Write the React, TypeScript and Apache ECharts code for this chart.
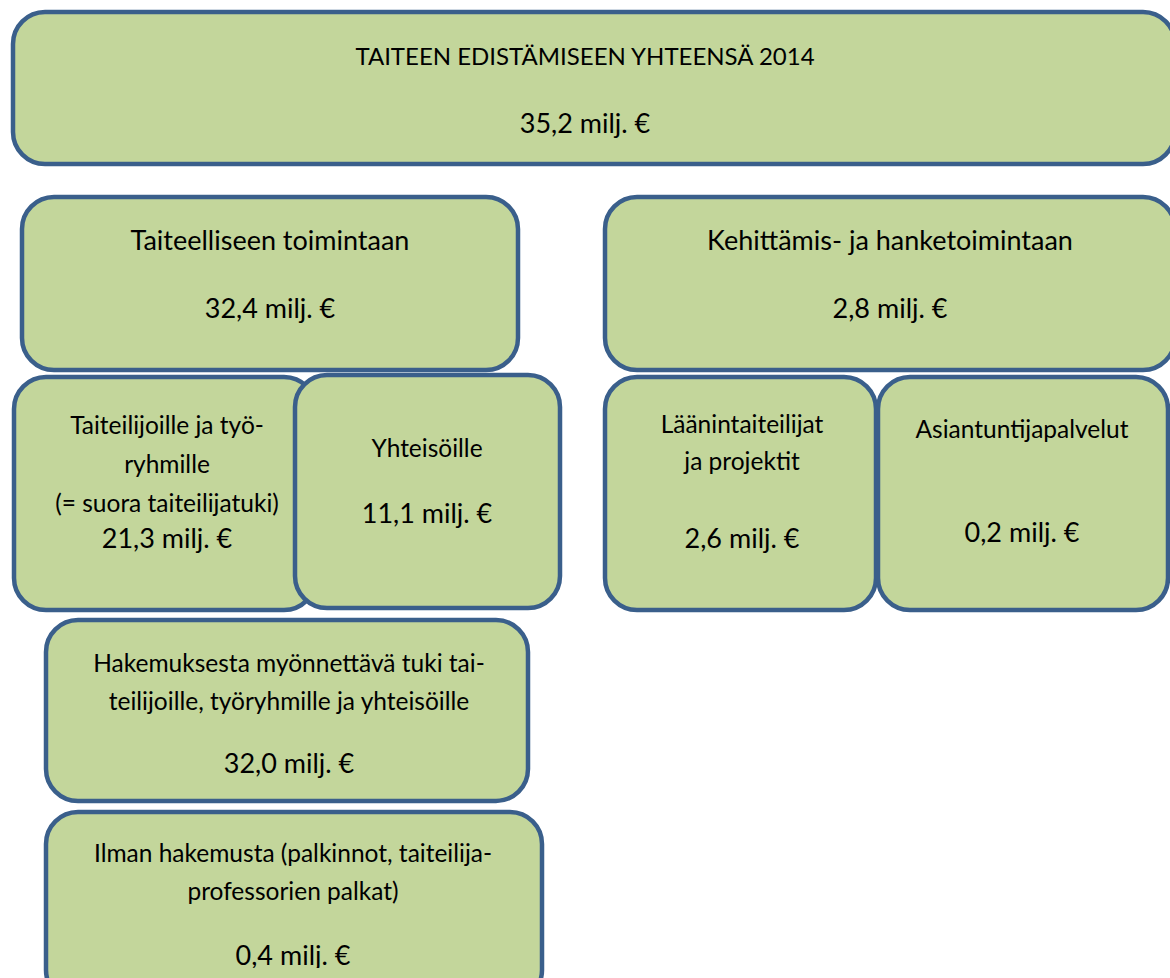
import React, { useEffect, useRef } from "react";
import * as echarts from "echarts";

// Data
const boxTitles: string[][] = [
  ["TAITEEN EDISTÄMISEEN YHTEENSÄ 2014"],
  ["Taiteelliseen toimintaan"],
  ["Kehittämis- ja hanketoimintaan"],
  ["Taiteilijoille ja työ-", "ryhmille", "(= suora taiteilijatuki)"],
  ["Yhteisöille"],
  ["Läänintaiteilijat", "ja projektit"],
  ["Asiantuntijapalvelut"],
  ["Hakemuksesta myönnettävä tuki tai-", "teilijoille, työryhmille ja yhteisöille"],
  ["Ilman hakemusta (palkinnot, taiteilija-", "professorien palkat)"],
];
const boxValues: string[] = ["35,2", "32,4", "2,8", "21,3", "11,1", "2,6", "0,2", "32,0", "0,4"];
const unitLabel = "milj. €";

// Layout (positions, not data)
const DY = 5;
type L = { x: number; y: number; w: number; h: number; cx: number; titleY: number[]; valueY: number; ts: number; vs: number };
const layout: L[] = [
  { x: 13, y: 12, w: 1162, h: 152, cx: 585, titleY: [50.6], valueY: 117.5, ts: 24, vs: 27 },
  { x: 22, y: 197, w: 496, h: 173, cx: 270, titleY: [234.5], valueY: 302.5, ts: 27, vs: 27 },
  { x: 605, y: 197, w: 570, h: 173, cx: 890, titleY: [234.5], valueY: 302.5, ts: 27, vs: 27 },
  { x: 14, y: 377, w: 302, h: 233, cx: 167, titleY: [419.4, 458.4, 497.4], valueY: 532.5, ts: 24.5, vs: 27 },
  { x: 295, y: 375, w: 265, h: 233, cx: 427, titleY: [442], valueY: 507.5, ts: 24.5, vs: 27 },
  { x: 605, y: 377, w: 271, h: 233, cx: 742, titleY: [418.4, 455.4], valueY: 532.5, ts: 24.5, vs: 27 },
  { x: 878, y: 377, w: 290, h: 233, cx: 1022, titleY: [423.4], valueY: 526.5, ts: 24.5, vs: 27 },
  { x: 46, y: 620, w: 482, h: 181, cx: 289, titleY: [657.4, 695.4], valueY: 757.5, ts: 24.5, vs: 27 },
  { x: 46, y: 812, w: 496, h: 190, cx: 293, titleY: [847.4, 885.4], valueY: 949.5, ts: 24.5, vs: 27 },
];

const FONT = "Lato";
const FILL = "#c3d69b";
const STROKE = "#3a5f8b";

export default function App() {
  const ref = useRef<HTMLDivElement>(null);
  useEffect(() => {
    if (!ref.current) return;
    const chart = echarts.init(ref.current, null, { renderer: "svg" });
    const elements: any[] = [];
    layout.forEach((b, i) => {
      const children: any[] = [
        {
          type: "rect",
          shape: { x: b.x, y: b.y, width: b.w, height: b.h, r: 32 },
          style: { fill: FILL, stroke: STROKE, lineWidth: 4.5 },
        },
      ];
      boxTitles[i].forEach((t, j) => {
        children.push({
          type: "text",
          x: b.cx,
          y: b.titleY[j] + DY,
          style: {
            text: t,
            fill: "#000",
            font: `${b.ts}px ${FONT}`,
            textAlign: "center",
            textVerticalAlign: "middle",
          },
        });
      });
      children.push({
        type: "text",
        x: b.cx,
        y: b.valueY + DY,
        style: {
          text: `${boxValues[i]} ${unitLabel}`,
          fill: "#000",
          font: `${b.vs}px ${FONT}`,
          textAlign: "center",
          textVerticalAlign: "middle",
        },
      });
      elements.push({ type: "group", children });
    });
    // the last text box is cut off just below the value line, as in the source document
    elements.push({
      type: "rect",
      shape: { x: 60, y: 968, width: 470, height: 20 },
      style: { fill: FILL },
    });
    chart.setOption({
      animation: false,
      backgroundColor: "#ffffff",
      graphic: { elements },
    });
    return () => chart.dispose();
  }, []);
  return (
    <div
      ref={ref}
      style={{ position: "fixed", left: 0, top: 0, width: 1170, height: 978 }}
    />
  );
}
